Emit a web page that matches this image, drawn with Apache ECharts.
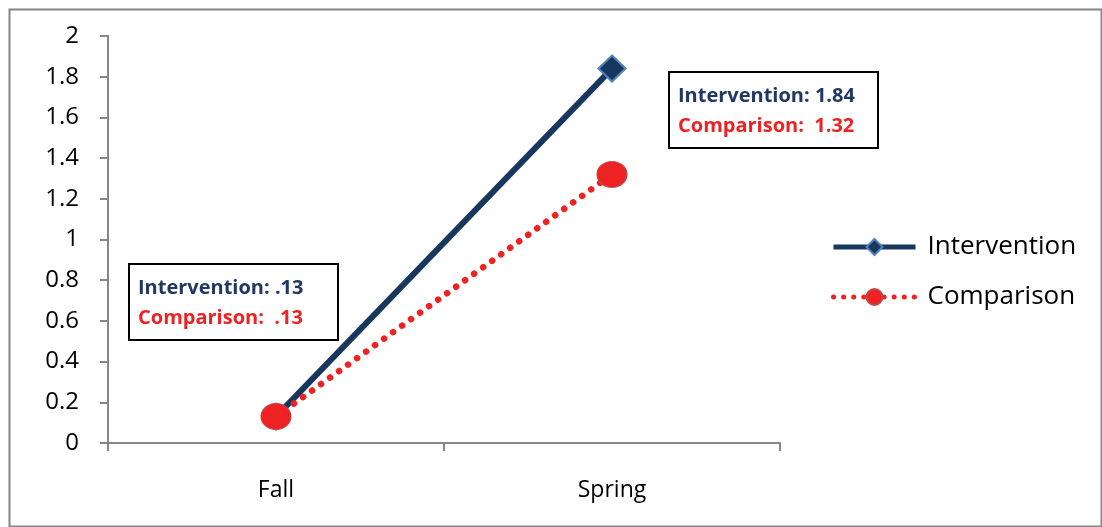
<!DOCTYPE html>
<html>
<head>
<meta charset="utf-8">
<script src="https://cdn.jsdelivr.net/npm/echarts@6/dist/echarts.min.js"></script>
<style>
html,body{margin:0;padding:0;background:#fff;}
#chart{width:1102px;height:527px;}
</style>
</head>
<body>
<div id="chart"></div>
<script>
const categories = ['Fall', 'Spring'];
const interventionValues = [0.13, 1.84];
const comparisonValues = [0.13, 1.32];
const yTicks = [0, 0.2, 0.4, 0.6, 0.8, 1, 1.2, 1.4, 1.6, 1.8, 2];
const fallNote = ['Intervention: .13', 'Comparison:  .13'];
const springNote = ['Intervention: 1.84', 'Comparison:  1.32'];

const FONT = '"Open Sans"';
const NAVY = '#17375E';
const RED = '#EE2222';
const AXIS = '#868686';

function noteText(x, y, text, color) {
  return { type: 'text', x: x, y: y, z: 11,
    style: { text: text, font: 'bold 20px ' + FONT, fill: color, verticalAlign: 'middle', align: 'left' } };
}

const chart = echarts.init(document.getElementById('chart'));
chart.setOption({
  animation: false,
  backgroundColor: '#fff',
  grid: { left: 108, right: 322, top: 36, bottom: 84 },
  legend: {
    orient: 'vertical',
    left: 831,
    top: 234,
    padding: 0,
    itemWidth: 82,
    itemHeight: 20,
    itemGap: 24,
    textStyle: { fontFamily: FONT, fontSize: 26, color: '#000', padding: [0,0,0,7] },
    data: [
      { name: 'Intervention', lineStyle: { width: 5, color: NAVY } },
      { name: 'Comparison', lineStyle: { width: 5, color: RED, type: [0.1, 10], cap: 'round' } }
    ]
  },
  xAxis: {
    type: 'category',
    data: categories,
    boundaryGap: true,
    axisLine: { lineStyle: { color: AXIS, width: 2 } },
    axisTick: { show: true, length: 8, lineStyle: { color: AXIS, width: 2 } },
    axisLabel: { fontFamily: FONT, fontSize: 23, color: '#000', margin: 36 }
  },
  yAxis: {
    type: 'value',
    min: 0, max: 2, interval: 0.2,
    axisLine: { show: true, lineStyle: { color: AXIS, width: 2 } },
    axisTick: { show: true, length: 8, lineStyle: { color: AXIS, width: 2 } },
    splitLine: { show: false },
    axisLabel: {
      fontFamily: FONT, fontSize: 24, color: '#000', margin: 29,
      formatter: v => {
        const t = yTicks.find(k => Math.abs(k - v) < 1e-9);
        return t === undefined ? '' : String(t);
      }
    }
  },
  series: [
    {
      name: 'Comparison',
      type: 'line',
      data: comparisonValues,
      symbol: 'circle',
      symbolSize: [30, 26],
      z: 3,
      lineStyle: { color: RED, width: 6.5, type: [0.1, 11], cap: 'round' },
      itemStyle: { color: RED, borderColor: '#B94A48', borderWidth: 1 }
    },
    {
      name: 'Intervention',
      type: 'line',
      data: interventionValues,
      symbol: 'diamond',
      symbolSize: [27, 26],
      z: 2,
      lineStyle: { color: NAVY, width: 6 },
      itemStyle: { color: NAVY, borderColor: '#4F81BD', borderWidth: 2 }
    }
  ],
  graphic: [
    { type: 'rect', left: 7, top: 7, shape: { width: 1092, height: 517 }, style: { fill: 'none', stroke: AXIS, lineWidth: 2 }, silent: true },
    { type: 'rect', left: 128, top: 263, shape: { width: 209, height: 76 }, style: { fill: '#fff', stroke: '#000', lineWidth: 2 }, z: 10 },
    noteText(138, 288, fallNote[0], '#1F3864'),
    noteText(138, 318, fallNote[1], RED),
    { type: 'rect', left: 668, top: 71, shape: { width: 209, height: 76 }, style: { fill: '#fff', stroke: '#000', lineWidth: 2 }, z: 10 },
    noteText(678, 96, springNote[0], '#1F3864'),
    noteText(678, 126, springNote[1], RED)
  ]
});
</script>
</body>
</html>
